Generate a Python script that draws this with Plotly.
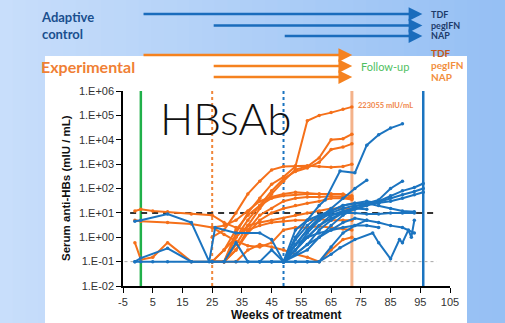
import plotly.graph_objects as go

# ---------------- data ----------------
orange_weeks = [
    [25, 29, 33, 37, 41, 45, 49, 53, 57, 61, 65, 69, 72],
    [25, 29, 33, 37, 41, 45, 49, 53, 57, 61, 65, 69, 72],
    [25, 29, 33, 37, 41, 45, 49, 53, 57, 61, 65, 69, 72],
    [25, 29, 33, 37, 41, 45, 49, 53, 57, 61, 65, 69, 72],
    [25, 29, 33, 37, 41, 45, 49, 53, 57, 61, 65, 69, 72],
    [25, 29, 33, 37, 41, 45, 49, 53, 57, 61, 65, 69, 72],
    [25, 29, 33, 37, 41, 45, 49, 53, 57, 61, 65, 69, 72],
    [-1, 1, 5, 10, 18, 25, 29, 33, 37, 41, 45, 49, 53, 57, 61, 65, 69, 72],
    [-1, 1, 10, 18, 25, 29, 33, 37, 41, 45, 49, 53, 57, 61, 65, 69, 72],
    [-1, 1, 5, 10, 18, 25, 29, 33, 37, 41, 45, 49, 53, 57, 61, 65, 69, 72],
    [25, 29, 33, 37, 41, 45, 49, 53, 57, 61, 65, 69, 72],
    [25, 29, 33, 37, 41, 45, 49, 53, 57, 61, 65, 69, 72],
]
orange_values = [
    [0.1, 0.1, 1.5, 10, 40, 150, 300, 800, 60000, 100000, 130000, 180000, 223055],
    [0.1, 0.1, 0.5, 3, 15, 60, 200, 600, 800, 1800, 10000, 11000, 17000],
    [0.1, 0.3, 1, 5, 20, 80, 250, 500, 700, 1200, 4000, 5000, 6800],
    [1, 2, 10, 60, 200, 580, 800, 850, 850, 800, 750, 800, 1000],
    [0.1, 0.3, 2, 8, 20, 40, 50, 55, 60, 60, 60, 55, 50],
    [2.5, 3, 5, 12, 30, 45, 60, 70, 65, 60, 60, 60, 45],
    [0.1, 0.1, 0.3, 2, 8, 15, 30, 40, 45, 45, 48, 45, 40],
    [12, 14, 12, 11, 9, 8, 4, 2.5, 2, 3, 4, 4.5, 5, 5, 5.5, 5, 5, 5],
    [5, 4.5, 4, 3.5, 2.5, 1.3, 0.7, 0.45, 0.4, 0.6, 2, 2.5, 2.5, 2.8, 2.5, 2.2, 2],
    [0.6, 0.12, 0.15, 0.6, 0.1, 0.1, 0.1, 0.3, 1.5, 5, 10, 15, 20, 25, 30, 40, 40, 35],
    [0.1, 0.1, 0.1, 0.3, 0.5, 0.4, 0.3, 0.2, 0.15, 0.1, 0.3, 0.8, 1],
    [0.1, 0.1, 1, 3, 4, 5, 6, 8, 10, 12, 15, 15, 14],
]

blue_weeks = [
    [-1, 1, 10, 18, 24, 26, 33, 41, 45, 49, 53, 57, 61, 65, 69, 73, 77, 81, 85, 89, 93],
    [-1, 1, 5, 10, 18, 25, 29, 33, 37, 41, 45, 49, 53, 57, 61, 65, 69, 73, 77],
    [-1, 1, 10, 18, 25, 29, 33, 37, 41, 45, 49, 53, 57, 61, 65, 69, 73, 77],
    [49, 53, 57, 61, 63, 68, 73, 77, 81, 85, 89],
    [49, 53, 57, 61, 65, 69, 73, 77, 81, 85, 89],
    [49, 53, 57, 61, 65, 69, 73, 77],
    [49, 53, 57, 61, 65, 69, 73, 77, 81, 85, 89, 93, 96],
    [49, 53, 57, 61, 65, 69, 73, 77, 81, 85, 89, 93, 96],
    [49, 57, 61, 65, 69, 73, 77, 81, 85, 89, 93, 96],
    [49, 53, 57, 61, 65, 68, 73, 79, 81, 85, 88, 89, 91, 92, 93],
    [49, 53, 57, 61, 65, 69, 73, 77, 81, 85, 89, 93],
    [49, 53, 57, 61, 65, 69, 73, 77, 81],
    [41, 45, 49, 53, 57, 61, 65, 69, 73, 77, 81, 85, 89, 93],
    [45, 49, 53, 57, 61, 65, 69, 73, 77, 81],
]
blue_values = [
    [4.5, 5, 9, 4, 0.1, 2.5, 1.5, 1.5, 0.8, 0.1, 0.5, 2, 6, 12, 20, 25, 25, 20, 15, 12, 11],
    [0.1, 0.1, 0.1, 0.1, 0.1, 0.1, 0.1, 0.6, 0.1, 0.1, 0.1, 0.1, 0.1, 0.1, 0.1, 0.4, 1.5, 3, 5],
    [0.1, 0.14, 0.35, 0.1, 0.1, 0.1, 0.1, 0.1, 0.1, 0.1, 0.1, 0.3, 1, 3, 8, 12, 15, 14],
    [0.1, 1, 5, 20, 34, 520, 440, 6000, 16000, 30000, 45000],
    [0.1, 0.3, 1, 3, 6, 10, 18, 25, 34, 100, 200],
    [0.1, 0.5, 2, 6, 15, 40, 100, 220],
    [0.1, 0.3, 1.5, 5, 10, 15, 20, 22, 30, 50, 80, 110, 160],
    [0.1, 0.2, 0.5, 2, 5, 10, 14, 20, 28, 40, 55, 75, 100],
    [0.1, 0.3, 1, 3, 8, 15, 22, 25, 30, 40, 55, 70],
    [0.1, 0.1, 0.1, 0.1, 0.2, 0.37, 0.8, 1.5, 0.6, 0.13, 0.8, 0.6, 2, 1, 5],
    [0.1, 0.2, 0.5, 1, 2, 4, 6, 5, 4, 3, 2.5, 1.5],
    [0.1, 0.8, 3, 8, 12, 20, 25, 30, 25],
    [0.1, 0.3, 0.1, 2, 5, 8, 8, 10, 10, 9, 9, 10, 10, 10],
    [0.1, 0.1, 0.5, 1, 1.5, 2, 2.5, 3, 3, 2.5],
]

threshold_high = 10
threshold_low = 0.1
x_tickvals = [-5, 5, 15, 25, 35, 45, 55, 65, 75, 85, 95, 105]
x_ticktext = ["-5", "5", "15", "25", "35", "45", "55", "65", "75", "85", "95", "105"]
y_tickvals = [0.01, 0.1, 1, 10, 100, 1000, 10000, 100000, 1000000]
y_ticktext = ["1.E-02", "1.E-01", "1.E+00", "1.E+01", "1.E+02", "1.E+03", "1.E+04", "1.E+05", "1.E+06"]

ORANGE = "#f5701a"
BLUE = "#1b74c0"
W, H = 505, 323

fig = go.Figure()

# threshold lines
fig.add_trace(go.Scatter(x=[-2.6, 100.5], y=[threshold_high] * 2, mode="lines",
                         line=dict(color="#333333", width=2, dash="6px,5px"),
                         hoverinfo="skip", showlegend=False))
fig.add_trace(go.Scatter(x=[-4.5, 100.5], y=[threshold_low] * 2, mode="lines",
                         line=dict(color="#a6a6a6", width=1, dash="3px,3px"),
                         hoverinfo="skip", showlegend=False))

for wk, vals in zip(orange_weeks, orange_values):
    fig.add_trace(go.Scatter(x=wk, y=vals, mode="lines+markers",
                             line=dict(color=ORANGE, width=2),
                             marker=dict(color=ORANGE, size=3.5),
                             showlegend=False))
for wk, vals in zip(blue_weeks, blue_values):
    fig.add_trace(go.Scatter(x=wk, y=vals, mode="lines+markers",
                             line=dict(color=BLUE, width=2),
                             marker=dict(color=BLUE, size=3.5),
                             showlegend=False))

shapes = []
# gradient background
n = 40
c0 = (200, 222, 251)
c1 = (150, 192, 244)
for i in range(n):
    t = i / (n - 1)
    c = tuple(int(c0[k] + (c1[k] - c0[k]) * t) for k in range(3))
    shapes.append(dict(type="rect", xref="paper", yref="paper", x0=i / n, x1=(i + 1) / n + 0.002,
                       y0=0, y1=1, fillcolor="rgb(%d,%d,%d)" % c, line=dict(width=0), layer="below"))
# white panel
shapes.append(dict(type="rect", xref="paper", yref="paper", x0=45 / W, x1=467 / W,
                   y0=0, y1=1 - 56 / H, fillcolor="white", line=dict(width=0), layer="below"))
# vertical marker lines
vlines = [(1, "#20b04a", 2.5, "solid"), (25, "#f0863a", 2, "dot"), (49, "#1b74c0", 2, "dot"),
          (72, "#f4b28a", 3, "solid"), (96, "#1b74c0", 2.5, "solid")]
for xv, col, wd, ds in vlines:
    shapes.append(dict(type="line", xref="x", yref="y domain", x0=xv, x1=xv, y0=0, y1=1,
                       line=dict(color=col, width=wd, dash=ds), layer="below"))

ann = []
# arrows
def arrow(x0, x1, ypx, col):
    ann.append(dict(x=x1, y=1 - ypx / H, xref="x", yref="paper", ax=x0, ay=0,
                    axref="x", ayref="pixel", text="", showarrow=True, arrowhead=2,
                    arrowsize=1.1, arrowwidth=2.5, arrowcolor=col))

arrow(1.4, 95.7, 14, "#1a6cbc")
arrow(25, 95.7, 25.5, "#1a6cbc")
arrow(48.9, 95.7, 36, "#1a6cbc")
arrow(1.4, 72.1, 55, "#f5821f")
arrow(25, 72.1, 66, "#f5821f")
arrow(25, 72.1, 77, "#f5821f")

def txt(s, xpx, ypx, size, color, family="Lato", weight="normal", xanchor="left", angle=0):
    ann.append(dict(text=s, x=xpx / W, y=1 - ypx / H, xref="paper", yref="paper",
                    showarrow=False, xanchor=xanchor, yanchor="middle", textangle=angle,
                    font=dict(size=size, color=color, family=family, weight=weight)))

ann.append(dict(text="Adaptive<br>control", x=39 / W, y=1 - 25.5 / H, xref="paper", yref="paper",
                showarrow=False, xanchor="left", yanchor="middle", align="left",
                font=dict(size=13, color="#1a4f8e", family="Lato", weight="bold")))
txt("TDF", 429, 14, 9, "#1d3b6a", weight="bold")
txt("pegIFN", 429, 25, 9, "#1d3b6a", weight="bold")
txt("NAP", 429, 36, 9, "#1d3b6a", weight="bold")
txt("Experimental", 39, 66, 16, "#f07f35", weight="bold")
txt("TDF", 429, 53, 10, "#c5591a", weight="bold")
txt("pegIFN", 429, 65, 10, "#f28e3c", weight="bold")
txt("NAP", 429, 77, 10, "#f28e3c", weight="bold")
txt("Follow-up", 359, 67, 11, "#4fbf62")
txt("HBsAb", 158, 118, 44, "#111111", family="Lato", weight=300)
txt("223055 mIU/mL", 356, 105, 7.5, "#f0864a", weight="bold")
txt("Weeks of treatment", 286, 315, 12, "#111111", family="Liberation Sans", weight="bold", xanchor="center")
ann.append(dict(text="Serum anti-HBs (mIU / mL)", x=66 / W, y=1 - 188 / H, xref="paper", yref="paper",
                showarrow=False, textangle=-90, xanchor="center", yanchor="middle",
                font=dict(size=11.5, color="#111111", family="Liberation Sans", weight="bold")))

fig.update_layout(
    width=W, height=H, margin=dict(l=0, r=0, t=0, b=0, autoexpand=False),
    paper_bgcolor="white", plot_bgcolor="rgba(0,0,0,0)",
    shapes=shapes, annotations=ann, showlegend=False,
    xaxis=dict(domain=[123 / W, 450 / W], range=[-5, 105], tickvals=x_tickvals, ticktext=x_ticktext,
               automargin=False,
               showgrid=False, zeroline=False, showline=True, linecolor="black", linewidth=1.5,
               ticks="outside", ticklen=5, tickcolor="black",
               tickfont=dict(family="Liberation Sans", size=11, color="#333333")),
    yaxis=dict(domain=[1 - 286 / H, 1 - 91 / H], type="log", range=[-2, 6], automargin=False,
               tickvals=y_tickvals, ticktext=y_ticktext,
               showgrid=False, zeroline=False, showline=True, linecolor="black", linewidth=1.5,
               ticks="outside", ticklen=5, tickcolor="black",
               tickfont=dict(family="Liberation Sans", size=11, color="#333333")),
)

fig.write_html("out.html", config={"displayModeBar": False},
               post_script="document.body.style.margin='0';document.body.style.overflow='hidden';")
